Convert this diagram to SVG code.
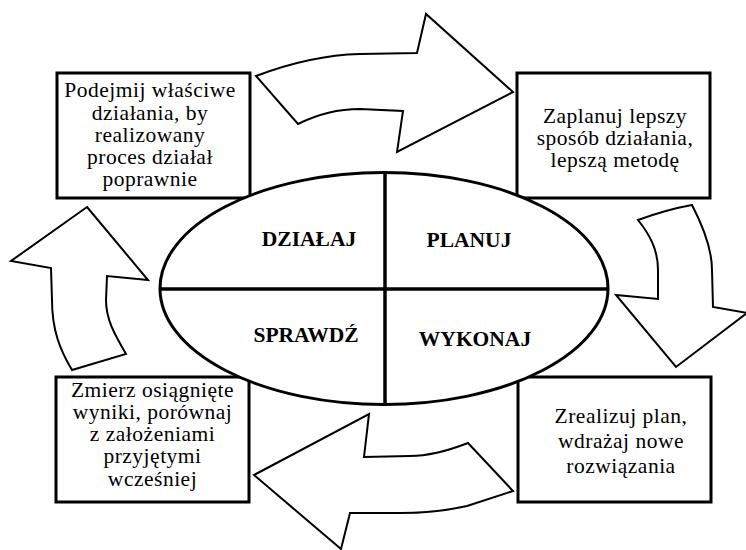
<svg xmlns="http://www.w3.org/2000/svg" width="746" height="550" viewBox="0 0 746 550">
<style>
.box{fill:#fff;stroke:#000;stroke-width:3}
.arr{fill:#fff;stroke:#000;stroke-width:2;stroke-linejoin:miter}
.t{font-family:'Liberation Serif','Times New Roman',serif;font-size:21.5px;letter-spacing:0.5px;fill:#000;text-anchor:middle}
.b{font-family:'Liberation Serif','Times New Roman',serif;font-size:21.5px;font-weight:bold;fill:#000;text-anchor:middle}
.ln{stroke:#000;stroke-width:3.5}
</style>
<rect width="746" height="550" fill="#fff"/>
<g id="act">
<rect class="box" x="57" y="73" width="193" height="125"/>
<text class="t" x="150" y="97">Podejmij właściwe</text>
<text class="t" x="150" y="119.5">działania, by</text>
<text class="t" x="150" y="142">realizowany</text>
<text class="t" x="150" y="164">proces działał</text>
<text class="t" x="150" y="186">poprawnie</text>
</g>
<g id="plan">
<rect class="box" x="517" y="73" width="193" height="125"/>
<text class="t" x="615" y="123">Zaplanuj lepszy</text>
<text class="t" x="615" y="145">sposób działania,</text>
<text class="t" x="615" y="167">lepszą metodę</text>
</g>
<g id="check">
<rect class="box" x="56" y="377" width="193" height="125"/>
<text class="t" x="152.5" y="397">Zmierz osiągnięte</text>
<text class="t" x="152.5" y="419">wyniki, porównaj</text>
<text class="t" x="152.5" y="441">z założeniami</text>
<text class="t" x="152.5" y="463">przyjętymi</text>
<text class="t" x="152.5" y="486">wcześniej</text>
</g>
<g id="do">
<rect class="box" x="518" y="377" width="193" height="125"/>
<text class="t" x="621" y="423">Zrealizuj plan,</text>
<text class="t" x="621" y="448">wdrażaj nowe</text>
<text class="t" x="621" y="473">rozwiązania</text>
</g>
<g id="cycle">
<ellipse cx="384" cy="288.5" rx="224" ry="116" fill="#fff" stroke="#000" stroke-width="3"/>
<line class="ln" x1="160" y1="289" x2="608" y2="289"/>
<line class="ln" x1="385" y1="172" x2="385" y2="405"/>
<text class="b" x="309" y="246">DZIAŁAJ</text>
<text class="b" x="469" y="247">PLANUJ</text>
<text class="b" x="306" y="342">SPRAWDŹ</text>
<text class="b" x="475" y="346">WYKONAJ</text>
</g>
<g id="connectors">
<path class="arr" d="M256,76 C285,65 320,55 360,54 L417,53 L426,14 L513,92 L397,152 L403,111 L360,109 C340,109 320,113 298,124 Z"/>
<path class="arr" d="M638,220 C660,212 675,208 692,205 C705,230 712,250 712,270 L713,307 L747,313 L676,367 L616,295 L658,299 L658,270 C658,250 650,235 638,220 Z"/>
<path class="arr" d="M254,475 L369,414 L364,457 L410,456 C430,456 450,450 468,443 L513,491 L467,506 C445,511 420,513 400,513 L350,513 L341,549 Z"/>
<path class="arr" d="M87,207 L148,280 L107,276 L106,300 C106,320 115,335 126,354 L72,370 C60,350 52,330 52,300 L51,268 L11,261 Z"/>
</g>
</svg>
